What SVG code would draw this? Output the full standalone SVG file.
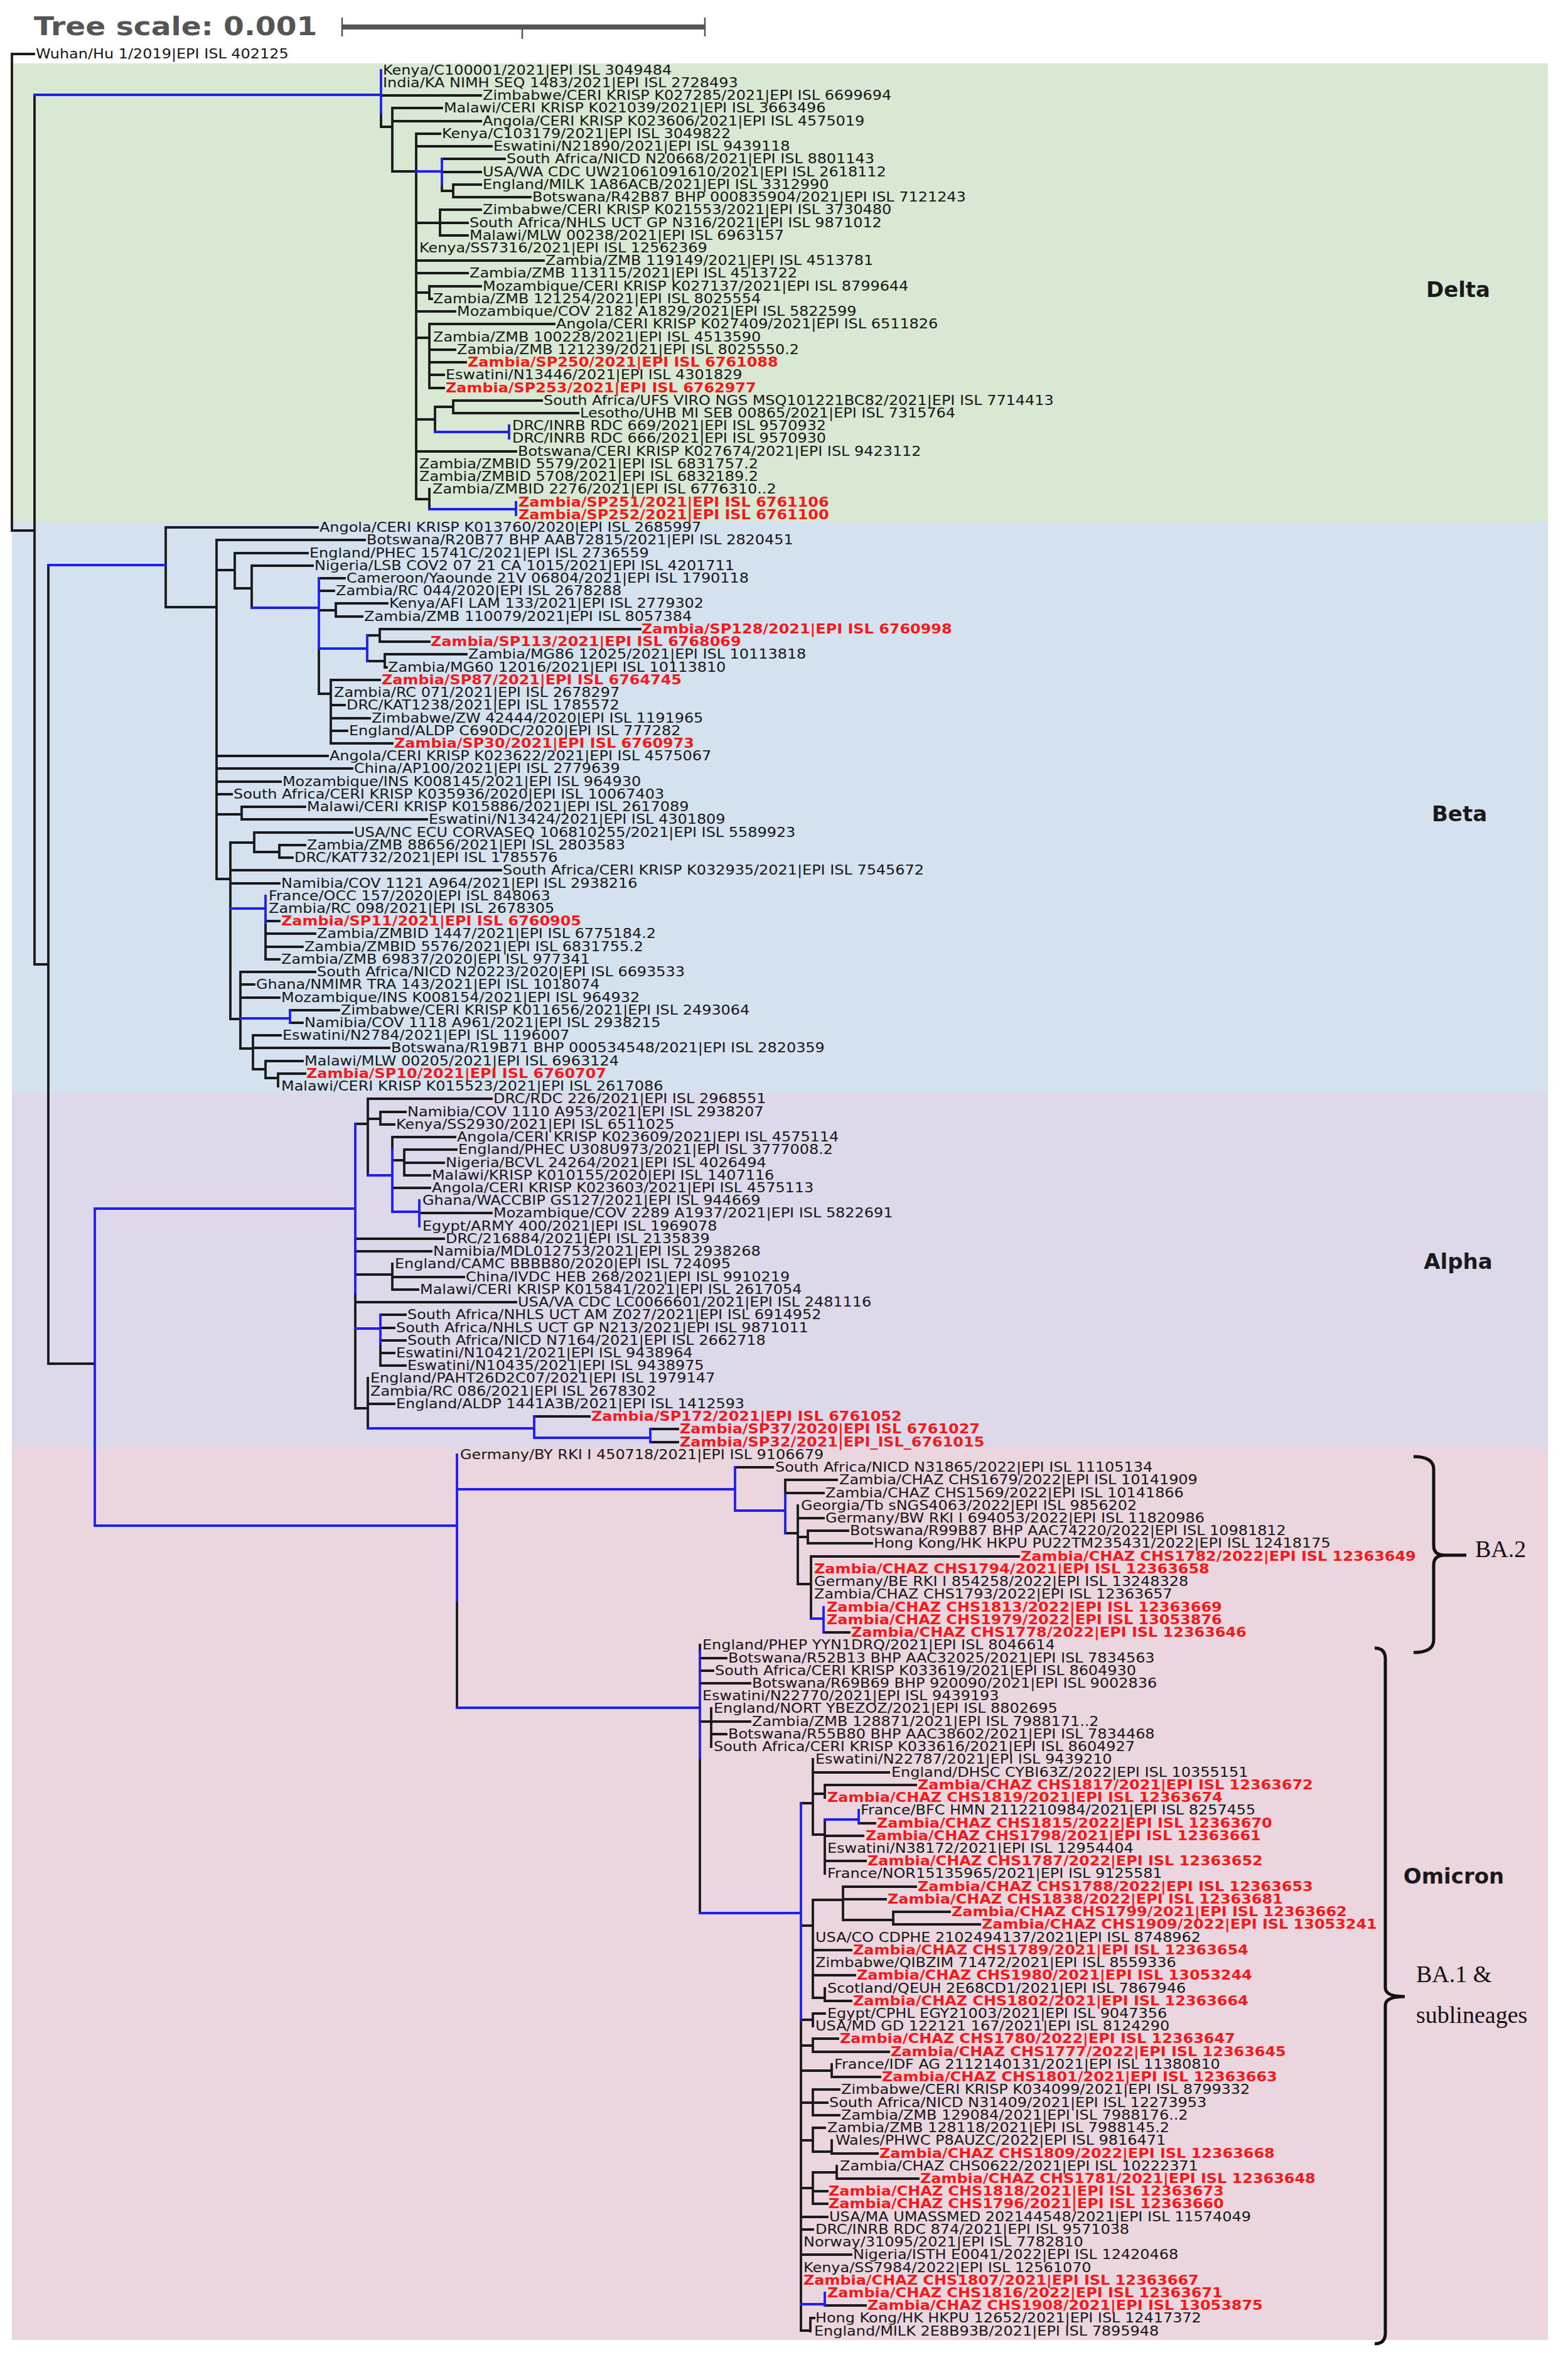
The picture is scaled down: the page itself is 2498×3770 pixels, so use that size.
<svg xmlns="http://www.w3.org/2000/svg" width="2498" height="3770" viewBox="0 0 2498 3770">
<style>
.k{fill:none;stroke:#1a1a1a;stroke-width:3.8;stroke-linecap:square}
.b{fill:none;stroke:#1f1ff0;stroke-width:3.8;stroke-linecap:square}
.br{fill:none;stroke:#111;stroke-width:5}
text{font-family:"DejaVu Sans","Liberation Sans",sans-serif}
.t{font-size:21px;fill:#161616;transform-box:fill-box;transform-origin:0 0;transform:scaleX(1.14)}
.r{font-weight:bold;fill:#f21a1a}
.c{font-size:34px;font-weight:bold;fill:#1a1a1a;text-anchor:middle}
.s{font-family:"Liberation Serif","Times New Roman",serif;font-size:38px;fill:#111}
</style>
<rect width="2498" height="3770" fill="#ffffff"/>
<g id="bands">
<rect x="19" y="101" width="2447" height="729" fill="#d9e8d3"/>
<rect x="19" y="830" width="2447" height="910" fill="#d4e2ef"/>
<rect x="19" y="1740" width="2447" height="566" fill="#ddd8ea"/>
<rect x="19" y="2306" width="2447" height="1421" fill="#ebd5de"/>
</g>
<g id="scale">
<text x="54" y="56" class="t" style="font-size:40px;font-weight:bold;fill:#555;transform:scaleX(1.18)">Tree scale: 0.001</text>
<rect x="545" y="39" width="578" height="8" fill="#555"/>
<path d="M545 28V58M1123 28V58M832 43V62" stroke="#555" stroke-width="2.5" fill="none"/>
</g>
<g id="branches">
<path class="k" d="M19 86V845M19 86H54M19 845H55M55 151V1536M55 1536H77M77 900V2172M77 2172H151
M607 180V202M607 152H766M607 202H625M625 172V273M625 172H704M625 193H766M625 273H663M663 213V795M663 213H701M663 233H783
M704 294V304M704 253H804M704 274H766M704 304H722M722 294V314M722 294H766M722 314H845
M663 355H701M701 334V375M701 334H766M701 355H745M701 375H745
M663 415H866M663 435H745
M663 466H684M684 456V476M684 456H766M684 476H688
M663 496H725
M663 538H684M684 516V618M684 516H883M684 557H725M684 577H742M684 597H707M684 618H707
M663 668H693M693 648V688M693 648H722M722 638V658M722 638H863M722 658H921
M663 719H822
M663 795H684M684 779V811
M264 840V967M264 840H506M264 967H345M345 860V1400M345 860H581M345 908H374M374 881V937M374 881H490M374 937H401M401 901V968M401 901H498
M508 921H549M508 941H532M508 972H535M535 961V982M535 961H617M535 982H577
M585 1012H605M605 1002V1022M605 1002H1020M605 1022H684M585 1053H613M613 1042V1063M613 1042H743M613 1063H616
M508 1033V1105M508 1105H527M527 1083V1184M527 1083H605M527 1123H549M527 1144H589M527 1164H553M527 1184H625
M345 1204H522M345 1224H561M345 1245H447M345 1265H369M345 1297H385M385 1285V1305M385 1285H486M385 1305H680
M345 1400H367M367 1342V1623M367 1342H405M405 1326V1357M405 1326H561M405 1357H445M445 1346V1366M445 1346H486M445 1366H466
M367 1386H798M367 1407H445
M423 1470V1528M423 1467H445M423 1487H502M423 1508H482M423 1528H445
M367 1623H383M383 1548V1670M383 1548H502M383 1568H405M383 1589H445
M462 1609H540M462 1629H482
M383 1670H403M403 1649V1703M403 1649H447M403 1669H620M403 1703H423M423 1690V1717M423 1690H482M423 1717H443M443 1710V1730M443 1710H486
M566 2060V2243M566 1790H586M586 1750V1872M586 1750H783M586 1782H606M606 1771V1791M606 1771H646M606 1791H628
M625 1811V1830M625 1811H725M625 1848H644M644 1831V1872M644 1831H727M644 1852H707M644 1872H685M625 1892H685
M668 1932H783
M566 1973H707M566 1993H687M566 2030H625M625 2013V2054M625 2034H739M625 2054H666M566 2074H822
M606 2140V2175M606 2094H646M606 2115H628M606 2135H646M606 2155H628M606 2175H646
M566 2243H586M586 2195V2275M586 2236H628
M851 2256H939M1036 2276H1080M1036 2297H1080
M728 2550V2720M1171 2337H1231M1251 2357V2380M1251 2357H1333M1251 2378H1312M1251 2442H1271M1271 2398V2523M1271 2418H1312M1271 2448H1287M1287 2438V2458M1287 2438H1351M1287 2458H1389M1271 2523H1292M1292 2479V2578M1292 2479H1623M1312 2600H1353
M1115 2620V2630M1115 2800V3047M1115 2641H1157M1115 2661H1136M1115 2681H1195M1115 2742H1133M1133 2721V2782M1133 2742H1195M1133 2762H1157
M1276 3217V3712
M1276 2872H1295M1295 2802V2922M1295 2823H1416M1295 2857H1314M1314 2843V2863M1314 2843H1459M1295 2922H1314M1314 2898V2984M1368 2904H1394M1314 2924H1375M1314 2964H1379
M1276 3067H1295M1295 3026V3182M1295 3026H1343M1343 3005V3058M1343 3005H1459M1343 3025H1411M1343 3058H1423M1423 3045V3065M1423 3045H1513M1423 3065H1561M1295 3106H1356M1295 3146H1362M1295 3182H1314M1314 3167V3187M1314 3187H1356
M1276 3217H1295M1295 3207V3227M1295 3207H1314
M1276 3258H1295M1295 3247V3268M1295 3247H1335M1295 3268H1416
M1276 3298H1325M1325 3288V3308M1325 3308H1402
M1276 3349H1295M1295 3328V3369M1295 3328H1337M1295 3349H1318M1295 3369H1337
M1276 3409H1295M1295 3389V3427M1295 3389H1314M1295 3427H1325M1325 3409V3430M1325 3430H1398
M1276 3485H1295M1295 3460V3510M1295 3460H1333M1333 3450V3470M1333 3470H1463M1295 3490H1318M1295 3510H1318
M1276 3531H1318M1276 3551H1295M1276 3591H1356
M1314 3672H1379
M1276 3712H1291M1291 3692V3713M1291 3692H1297"/>
<path class="b" d="M55 151H607M607 112V180M663 273H704M704 253V294M693 688H811M811 678V698M684 811H822M822 800V820
M77 900H264M401 968H508M508 921V1033M508 1033H585M585 1012V1053M367 1447H423M423 1427V1470M383 1622H462M462 1609V1629
M151 1925V2430M151 1925H566M566 1790V2060M586 1872H625M625 1830V1930M625 1930H668M668 1912V1953M566 2116H606M606 2094V2140M586 2275H851M851 2256V2290M851 2290H1036M1036 2276V2297
M151 2430H728M728 2317V2550M728 2372H1171M1171 2337V2406M1171 2406H1251M1251 2380V2442M1292 2578H1312M1312 2560V2600M728 2720H1115M1115 2630V2800M1115 3047H1276M1276 2872V3217M1368 2883V2904M1314 2898H1368M1276 3670H1314M1314 3652V3672"/>
</g>
<g id="brackets">
<path class="br" d="M2252 2320Q2284 2320 2284 2340V2462Q2284 2477 2302 2477Q2284 2477 2284 2492V2612Q2284 2632 2252 2632"/>
<path class="br" d="M2302 2477H2336"/>
<path class="br" d="M2190 2625Q2207 2625 2207 2642V3166Q2207 3180 2238 3180Q2207 3180 2207 3194V3716Q2207 3733 2190 3733"/>
</g>
<g id="clade-delta"><text class="c" x="2323" y="473">Delta</text></g>
<g id="clade-beta"><text class="c" x="2325" y="1308">Beta</text></g>
<g id="clade-alpha"><text class="c" x="2323" y="2021">Alpha</text></g>
<g id="clade-omicron"><text class="c" x="2316" y="3000">Omicron</text></g>
<g id="ba2"><text class="s" x="2350" y="2480">BA.2</text></g>
<g id="ba1"><text class="s" x="2256" y="3157">BA.1 &amp;</text><text class="s" x="2256" y="3222">sublineages</text></g>
<g id="t0"><text class="t" x="57" y="93">Wuhan/Hu 1/2019|EPI ISL 402125</text></g>
<g id="t1"><text class="t" x="610" y="119">Kenya/C100001/2021|EPI ISL 3049484</text></g>
<g id="t2"><text class="t" x="610" y="139">India/KA NIMH SEQ 1483/2021|EPI ISL 2728493</text></g>
<g id="t3"><text class="t" x="769" y="159">Zimbabwe/CERI KRISP K027285/2021|EPI ISL 6699694</text></g>
<g id="t4"><text class="t" x="707" y="179">Malawi/CERI KRISP K021039/2021|EPI ISL 3663496</text></g>
<g id="t5"><text class="t" x="769" y="200">Angola/CERI KRISP K023606/2021|EPI ISL 4575019</text></g>
<g id="t6"><text class="t" x="704" y="220">Kenya/C103179/2021|EPI ISL 3049822</text></g>
<g id="t7"><text class="t" x="786" y="240">Eswatini/N21890/2021|EPI ISL 9439118</text></g>
<g id="t8"><text class="t" x="807" y="260">South Africa/NICD N20668/2021|EPI ISL 8801143</text></g>
<g id="t9"><text class="t" x="769" y="281">USA/WA CDC UW21061091610/2021|EPI ISL 2618112</text></g>
<g id="t10"><text class="t" x="769" y="301">England/MILK 1A86ACB/2021|EPI ISL 3312990</text></g>
<g id="t11"><text class="t" x="848" y="321">Botswana/R42B87 BHP 000835904/2021|EPI ISL 7121243</text></g>
<g id="t12"><text class="t" x="769" y="341">Zimbabwe/CERI KRISP K021553/2021|EPI ISL 3730480</text></g>
<g id="t13"><text class="t" x="748" y="362">South Africa/NHLS UCT GP N316/2021|EPI ISL 9871012</text></g>
<g id="t14"><text class="t" x="748" y="382">Malawi/MLW 00238/2021|EPI ISL 6963157</text></g>
<g id="t15"><text class="t" x="668" y="402">Kenya/SS7316/2021|EPI ISL 12562369</text></g>
<g id="t16"><text class="t" x="869" y="422">Zambia/ZMB 119149/2021|EPI ISL 4513781</text></g>
<g id="t17"><text class="t" x="748" y="442">Zambia/ZMB 113115/2021|EPI ISL 4513722</text></g>
<g id="t18"><text class="t" x="769" y="463">Mozambique/CERI KRISP K027137/2021|EPI ISL 8799644</text></g>
<g id="t19"><text class="t" x="690" y="483">Zambia/ZMB 121254/2021|EPI ISL 8025554</text></g>
<g id="t20"><text class="t" x="728" y="503">Mozambique/COV 2182 A1829/2021|EPI ISL 5822599</text></g>
<g id="t21"><text class="t" x="886" y="523">Angola/CERI KRISP K027409/2021|EPI ISL 6511826</text></g>
<g id="t22"><text class="t" x="690" y="544">Zambia/ZMB 100228/2021|EPI ISL 4513590</text></g>
<g id="t23"><text class="t" x="728" y="564">Zambia/ZMB 121239/2021|EPI ISL 8025550.2</text></g>
<g id="t24"><text class="t r" x="745" y="584">Zambia/SP250/2021|EPI ISL 6761088</text></g>
<g id="t25"><text class="t" x="710" y="604">Eswatini/N13446/2021|EPI ISL 4301829</text></g>
<g id="t26"><text class="t r" x="710" y="625">Zambia/SP253/2021|EPI ISL 6762977</text></g>
<g id="t27"><text class="t" x="866" y="645">South Africa/UFS VIRO NGS MSQ101221BC82/2021|EPI ISL 7714413</text></g>
<g id="t28"><text class="t" x="924" y="665">Lesotho/UHB MI SEB 00865/2021|EPI ISL 7315764</text></g>
<g id="t29"><text class="t" x="816" y="685">DRC/INRB RDC 669/2021|EPI ISL 9570932</text></g>
<g id="t30"><text class="t" x="816" y="705">DRC/INRB RDC 666/2021|EPI ISL 9570930</text></g>
<g id="t31"><text class="t" x="825" y="726">Botswana/CERI KRISP K027674/2021|EPI ISL 9423112</text></g>
<g id="t32"><text class="t" x="668" y="746">Zambia/ZMBID 5579/2021|EPI ISL 6831757.2</text></g>
<g id="t33"><text class="t" x="668" y="766">Zambia/ZMBID 5708/2021|EPI ISL 6832189.2</text></g>
<g id="t34"><text class="t" x="689" y="786">Zambia/ZMBID 2276/2021|EPI ISL 6776310..2</text></g>
<g id="t35"><text class="t r" x="826" y="807">Zambia/SP251/2021|EPI ISL 6761106</text></g>
<g id="t36"><text class="t r" x="826" y="827">Zambia/SP252/2021|EPI ISL 6761100</text></g>
<g id="t37"><text class="t" x="509" y="847">Angola/CERI KRISP K013760/2020|EPI ISL 2685997</text></g>
<g id="t38"><text class="t" x="584" y="867">Botswana/R20B77 BHP AAB72815/2021|EPI ISL 2820451</text></g>
<g id="t39"><text class="t" x="493" y="888">England/PHEC 15741C/2021|EPI ISL 2736559</text></g>
<g id="t40"><text class="t" x="501" y="908">Nigeria/LSB COV2 07 21 CA 1015/2021|EPI ISL 4201711</text></g>
<g id="t41"><text class="t" x="552" y="928">Cameroon/Yaounde 21V 06804/2021|EPI ISL 1790118</text></g>
<g id="t42"><text class="t" x="535" y="948">Zambia/RC 044/2020|EPI ISL 2678288</text></g>
<g id="t43"><text class="t" x="620" y="968">Kenya/AFI LAM 133/2021|EPI ISL 2779302</text></g>
<g id="t44"><text class="t" x="580" y="989">Zambia/ZMB 110079/2021|EPI ISL 8057384</text></g>
<g id="t45"><text class="t r" x="1022" y="1009">Zambia/SP128/2021|EPI ISL 6760998</text></g>
<g id="t46"><text class="t r" x="686" y="1029">Zambia/SP113/2021|EPI ISL 6768069</text></g>
<g id="t47"><text class="t" x="746" y="1049">Zambia/MG86 12025/2021|EPI ISL 10113818</text></g>
<g id="t48"><text class="t" x="618" y="1070">Zambia/MG60 12016/2021|EPI ISL 10113810</text></g>
<g id="t49"><text class="t r" x="608" y="1090">Zambia/SP87/2021|EPI ISL 6764745</text></g>
<g id="t50"><text class="t" x="532" y="1110">Zambia/RC 071/2021|EPI ISL 2678297</text></g>
<g id="t51"><text class="t" x="552" y="1130">DRC/KAT1238/2021|EPI ISL 1785572</text></g>
<g id="t52"><text class="t" x="592" y="1151">Zimbabwe/ZW 42444/2020|EPI ISL 1191965</text></g>
<g id="t53"><text class="t" x="556" y="1171">England/ALDP C690DC/2020|EPI ISL 777282</text></g>
<g id="t54"><text class="t r" x="628" y="1191">Zambia/SP30/2021|EPI ISL 6760973</text></g>
<g id="t55"><text class="t" x="525" y="1211">Angola/CERI KRISP K023622/2021|EPI ISL 4575067</text></g>
<g id="t56"><text class="t" x="564" y="1231">China/AP100/2021|EPI ISL 2779639</text></g>
<g id="t57"><text class="t" x="450" y="1252">Mozambique/INS K008145/2021|EPI ISL 964930</text></g>
<g id="t58"><text class="t" x="372" y="1272">South Africa/CERI KRISP K035936/2020|EPI ISL 10067403</text></g>
<g id="t59"><text class="t" x="489" y="1292">Malawi/CERI KRISP K015886/2021|EPI ISL 2617089</text></g>
<g id="t60"><text class="t" x="683" y="1312">Eswatini/N13424/2021|EPI ISL 4301809</text></g>
<g id="t61"><text class="t" x="564" y="1333">USA/NC ECU CORVASEQ 106810255/2021|EPI ISL 5589923</text></g>
<g id="t62"><text class="t" x="489" y="1353">Zambia/ZMB 88656/2021|EPI ISL 2803583</text></g>
<g id="t63"><text class="t" x="469" y="1373">DRC/KAT732/2021|EPI ISL 1785576</text></g>
<g id="t64"><text class="t" x="801" y="1393">South Africa/CERI KRISP K032935/2021|EPI ISL 7545672</text></g>
<g id="t65"><text class="t" x="448" y="1414">Namibia/COV 1121 A964/2021|EPI ISL 2938216</text></g>
<g id="t66"><text class="t" x="428" y="1434">France/OCC 157/2020|EPI ISL 848063</text></g>
<g id="t67"><text class="t" x="428" y="1454">Zambia/RC 098/2021|EPI ISL 2678305</text></g>
<g id="t68"><text class="t r" x="448" y="1474">Zambia/SP11/2021|EPI ISL 6760905</text></g>
<g id="t69"><text class="t" x="505" y="1494">Zambia/ZMBID 1447/2021|EPI ISL 6775184.2</text></g>
<g id="t70"><text class="t" x="485" y="1515">Zambia/ZMBID 5576/2021|EPI ISL 6831755.2</text></g>
<g id="t71"><text class="t" x="448" y="1535">Zambia/ZMB 69837/2020|EPI ISL 977341</text></g>
<g id="t72"><text class="t" x="505" y="1555">South Africa/NICD N20223/2020|EPI ISL 6693533</text></g>
<g id="t73"><text class="t" x="408" y="1575">Ghana/NMIMR TRA 143/2021|EPI ISL 1018074</text></g>
<g id="t74"><text class="t" x="448" y="1596">Mozambique/INS K008154/2021|EPI ISL 964932</text></g>
<g id="t75"><text class="t" x="543" y="1616">Zimbabwe/CERI KRISP K011656/2021|EPI ISL 2493064</text></g>
<g id="t76"><text class="t" x="485" y="1636">Namibia/COV 1118 A961/2021|EPI ISL 2938215</text></g>
<g id="t77"><text class="t" x="450" y="1656">Eswatini/N2784/2021|EPI ISL 1196007</text></g>
<g id="t78"><text class="t" x="623" y="1676">Botswana/R19B71 BHP 000534548/2021|EPI ISL 2820359</text></g>
<g id="t79"><text class="t" x="485" y="1697">Malawi/MLW 00205/2021|EPI ISL 6963124</text></g>
<g id="t80"><text class="t r" x="488" y="1717">Zambia/SP10/2021|EPI ISL 6760707</text></g>
<g id="t81"><text class="t" x="448" y="1737">Malawi/CERI KRISP K015523/2021|EPI ISL 2617086</text></g>
<g id="t82"><text class="t" x="786" y="1757">DRC/RDC 226/2021|EPI ISL 2968551</text></g>
<g id="t83"><text class="t" x="649" y="1778">Namibia/COV 1110 A953/2021|EPI ISL 2938207</text></g>
<g id="t84"><text class="t" x="631" y="1798">Kenya/SS2930/2021|EPI ISL 6511025</text></g>
<g id="t85"><text class="t" x="728" y="1818">Angola/CERI KRISP K023609/2021|EPI ISL 4575114</text></g>
<g id="t86"><text class="t" x="730" y="1838">England/PHEC U308U973/2021|EPI ISL 3777008.2</text></g>
<g id="t87"><text class="t" x="710" y="1859">Nigeria/BCVL 24264/2021|EPI ISL 4026494</text></g>
<g id="t88"><text class="t" x="688" y="1879">Malawi/KRISP K010155/2020|EPI ISL 1407116</text></g>
<g id="t89"><text class="t" x="688" y="1899">Angola/CERI KRISP K023603/2021|EPI ISL 4575113</text></g>
<g id="t90"><text class="t" x="673" y="1919">Ghana/WACCBIP GS127/2021|EPI ISL 944669</text></g>
<g id="t91"><text class="t" x="786" y="1939">Mozambique/COV 2289 A1937/2021|EPI ISL 5822691</text></g>
<g id="t92"><text class="t" x="673" y="1960">Egypt/ARMY 400/2021|EPI ISL 1969078</text></g>
<g id="t93"><text class="t" x="710" y="1980">DRC/216884/2021|EPI ISL 2135839</text></g>
<g id="t94"><text class="t" x="690" y="2000">Namibia/MDL012753/2021|EPI ISL 2938268</text></g>
<g id="t95"><text class="t" x="629" y="2020">England/CAMC BBBB80/2020|EPI ISL 724095</text></g>
<g id="t96"><text class="t" x="742" y="2041">China/IVDC HEB 268/2021|EPI ISL 9910219</text></g>
<g id="t97"><text class="t" x="669" y="2061">Malawi/CERI KRISP K015841/2021|EPI ISL 2617054</text></g>
<g id="t98"><text class="t" x="825" y="2081">USA/VA CDC LC0066601/2021|EPI ISL 2481116</text></g>
<g id="t99"><text class="t" x="649" y="2101">South Africa/NHLS UCT AM Z027/2021|EPI ISL 6914952</text></g>
<g id="t100"><text class="t" x="631" y="2122">South Africa/NHLS UCT GP N213/2021|EPI ISL 9871011</text></g>
<g id="t101"><text class="t" x="649" y="2142">South Africa/NICD N7164/2021|EPI ISL 2662718</text></g>
<g id="t102"><text class="t" x="631" y="2162">Eswatini/N10421/2021|EPI ISL 9438964</text></g>
<g id="t103"><text class="t" x="649" y="2182">Eswatini/N10435/2021|EPI ISL 9438975</text></g>
<g id="t104"><text class="t" x="590" y="2202">England/PAHT26D2C07/2021|EPI ISL 1979147</text></g>
<g id="t105"><text class="t" x="590" y="2223">Zambia/RC 086/2021|EPI ISL 2678302</text></g>
<g id="t106"><text class="t" x="631" y="2243">England/ALDP 1441A3B/2021|EPI ISL 1412593</text></g>
<g id="t107"><text class="t r" x="942" y="2263">Zambia/SP172/2021|EPI ISL 6761052</text></g>
<g id="t108"><text class="t r" x="1083" y="2283">Zambia/SP37/2020|EPI ISL 6761027</text></g>
<g id="t109"><text class="t r" x="1083" y="2304">Zambia/SP32/2021|EPI_ISL_6761015</text></g>
<g id="t110"><text class="t" x="733" y="2324">Germany/BY RKI I 450718/2021|EPI ISL 9106679</text></g>
<g id="t111"><text class="t" x="1235" y="2344">South Africa/NICD N31865/2022|EPI ISL 11105134</text></g>
<g id="t112"><text class="t" x="1337" y="2364">Zambia/CHAZ CHS1679/2022|EPI ISL 10141909</text></g>
<g id="t113"><text class="t" x="1315" y="2385">Zambia/CHAZ CHS1569/2022|EPI ISL 10141866</text></g>
<g id="t114"><text class="t" x="1276" y="2405">Georgia/Tb sNGS4063/2022|EPI ISL 9856202</text></g>
<g id="t115"><text class="t" x="1315" y="2425">Germany/BW RKI I 694053/2022|EPI ISL 11820986</text></g>
<g id="t116"><text class="t" x="1354" y="2445">Botswana/R99B87 BHP AAC74220/2022|EPI ISL 10981812</text></g>
<g id="t117"><text class="t" x="1392" y="2465">Hong Kong/HK HKPU PU22TM235431/2022|EPI ISL 12418175</text></g>
<g id="t118"><text class="t r" x="1626" y="2486">Zambia/CHAZ CHS1782/2022|EPI ISL 12363649</text></g>
<g id="t119"><text class="t r" x="1297" y="2506">Zambia/CHAZ CHS1794/2021|EPI ISL 12363658</text></g>
<g id="t120"><text class="t" x="1297" y="2526">Germany/BE RKI I 854258/2022|EPI ISL 13248328</text></g>
<g id="t121"><text class="t" x="1297" y="2546">Zambia/CHAZ CHS1793/2022|EPI ISL 12363657</text></g>
<g id="t122"><text class="t r" x="1317" y="2567">Zambia/CHAZ CHS1813/2022|EPI ISL 12363669</text></g>
<g id="t123"><text class="t r" x="1317" y="2587">Zambia/CHAZ CHS1979/2022|EPI ISL 13053876</text></g>
<g id="t124"><text class="t r" x="1356" y="2607">Zambia/CHAZ CHS1778/2022|EPI ISL 12363646</text></g>
<g id="t125"><text class="t" x="1119" y="2627">England/PHEP YYN1DRQ/2021|EPI ISL 8046614</text></g>
<g id="t126"><text class="t" x="1160" y="2648">Botswana/R52B13 BHP AAC32025/2021|EPI ISL 7834563</text></g>
<g id="t127"><text class="t" x="1139" y="2668">South Africa/CERI KRISP K033619/2021|EPI ISL 8604930</text></g>
<g id="t128"><text class="t" x="1198" y="2688">Botswana/R69B69 BHP 920090/2021|EPI ISL 9002836</text></g>
<g id="t129"><text class="t" x="1119" y="2708">Eswatini/N22770/2021|EPI ISL 9439193</text></g>
<g id="t130"><text class="t" x="1137" y="2728">England/NORT YBEZOZ/2021|EPI ISL 8802695</text></g>
<g id="t131"><text class="t" x="1198" y="2749">Zambia/ZMB 128871/2021|EPI ISL 7988171..2</text></g>
<g id="t132"><text class="t" x="1160" y="2769">Botswana/R55B80 BHP AAC38602/2021|EPI ISL 7834468</text></g>
<g id="t133"><text class="t" x="1137" y="2789">South Africa/CERI KRISP K033616/2021|EPI ISL 8604927</text></g>
<g id="t134"><text class="t" x="1299" y="2809">Eswatini/N22787/2021|EPI ISL 9439210</text></g>
<g id="t135"><text class="t" x="1420" y="2830">England/DHSC CYBI63Z/2022|EPI ISL 10355151</text></g>
<g id="t136"><text class="t r" x="1462" y="2850">Zambia/CHAZ CHS1817/2021|EPI ISL 12363672</text></g>
<g id="t137"><text class="t r" x="1318" y="2870">Zambia/CHAZ CHS1819/2021|EPI ISL 12363674</text></g>
<g id="t138"><text class="t" x="1371" y="2890">France/BFC HMN 2112210984/2021|EPI ISL 8257455</text></g>
<g id="t139"><text class="t r" x="1397" y="2911">Zambia/CHAZ CHS1815/2022|EPI ISL 12363670</text></g>
<g id="t140"><text class="t r" x="1379" y="2931">Zambia/CHAZ CHS1798/2021|EPI ISL 12363661</text></g>
<g id="t141"><text class="t" x="1318" y="2951">Eswatini/N38172/2021|EPI ISL 12954404</text></g>
<g id="t142"><text class="t r" x="1382" y="2971">Zambia/CHAZ CHS1787/2022|EPI ISL 12363652</text></g>
<g id="t143"><text class="t" x="1318" y="2991">France/NOR15135965/2021|EPI ISL 9125581</text></g>
<g id="t144"><text class="t r" x="1462" y="3012">Zambia/CHAZ CHS1788/2022|EPI ISL 12363653</text></g>
<g id="t145"><text class="t r" x="1414" y="3032">Zambia/CHAZ CHS1838/2022|EPI ISL 12363681</text></g>
<g id="t146"><text class="t r" x="1516" y="3052">Zambia/CHAZ CHS1799/2021|EPI ISL 12363662</text></g>
<g id="t147"><text class="t r" x="1564" y="3072">Zambia/CHAZ CHS1909/2022|EPI ISL 13053241</text></g>
<g id="t148"><text class="t" x="1299" y="3093">USA/CO CDPHE 2102494137/2021|EPI ISL 8748962</text></g>
<g id="t149"><text class="t r" x="1359" y="3113">Zambia/CHAZ CHS1789/2021|EPI ISL 12363654</text></g>
<g id="t150"><text class="t" x="1299" y="3133">Zimbabwe/QIBZIM 71472/2021|EPI ISL 8559336</text></g>
<g id="t151"><text class="t r" x="1365" y="3153">Zambia/CHAZ CHS1980/2021|EPI ISL 13053244</text></g>
<g id="t152"><text class="t" x="1318" y="3174">Scotland/QEUH 2E68CD1/2021|EPI ISL 7867946</text></g>
<g id="t153"><text class="t r" x="1359" y="3194">Zambia/CHAZ CHS1802/2021|EPI ISL 12363664</text></g>
<g id="t154"><text class="t" x="1318" y="3214">Egypt/CPHL EGY21003/2021|EPI ISL 9047356</text></g>
<g id="t155"><text class="t" x="1299" y="3234">USA/MD GD 122121 167/2021|EPI ISL 8124290</text></g>
<g id="t156"><text class="t r" x="1338" y="3254">Zambia/CHAZ CHS1780/2022|EPI ISL 12363647</text></g>
<g id="t157"><text class="t r" x="1419" y="3275">Zambia/CHAZ CHS1777/2022|EPI ISL 12363645</text></g>
<g id="t158"><text class="t" x="1329" y="3295">France/IDF AG 2112140131/2021|EPI ISL 11380810</text></g>
<g id="t159"><text class="t r" x="1405" y="3315">Zambia/CHAZ CHS1801/2021|EPI ISL 12363663</text></g>
<g id="t160"><text class="t" x="1340" y="3335">Zimbabwe/CERI KRISP K034099/2021|EPI ISL 8799332</text></g>
<g id="t161"><text class="t" x="1321" y="3356">South Africa/NICD N31409/2021|EPI ISL 12273953</text></g>
<g id="t162"><text class="t" x="1340" y="3376">Zambia/ZMB 129084/2021|EPI ISL 7988176..2</text></g>
<g id="t163"><text class="t" x="1318" y="3396">Zambia/ZMB 128118/2021|EPI ISL 7988145.2</text></g>
<g id="t164"><text class="t" x="1331" y="3416">Wales/PHWC P8AUZC/2022|EPI ISL 9816471</text></g>
<g id="t165"><text class="t r" x="1401" y="3437">Zambia/CHAZ CHS1809/2022|EPI ISL 12363668</text></g>
<g id="t166"><text class="t" x="1338" y="3457">Zambia/CHAZ CHS0622/2021|EPI ISL 10222371</text></g>
<g id="t167"><text class="t r" x="1466" y="3477">Zambia/CHAZ CHS1781/2021|EPI ISL 12363648</text></g>
<g id="t168"><text class="t r" x="1320" y="3497">Zambia/CHAZ CHS1818/2021|EPI ISL 12363673</text></g>
<g id="t169"><text class="t r" x="1320" y="3517">Zambia/CHAZ CHS1796/2021|EPI ISL 12363660</text></g>
<g id="t170"><text class="t" x="1321" y="3538">USA/MA UMASSMED 202144548/2021|EPI ISL 11574049</text></g>
<g id="t171"><text class="t" x="1299" y="3558">DRC/INRB RDC 874/2021|EPI ISL 9571038</text></g>
<g id="t172"><text class="t" x="1280" y="3578">Norway/31095/2021|EPI ISL 7782810</text></g>
<g id="t173"><text class="t" x="1359" y="3598">Nigeria/ISTH E0041/2022|EPI ISL 12420468</text></g>
<g id="t174"><text class="t" x="1280" y="3619">Kenya/SS7984/2022|EPI ISL 12561070</text></g>
<g id="t175"><text class="t r" x="1280" y="3639">Zambia/CHAZ CHS1807/2021|EPI ISL 12363667</text></g>
<g id="t176"><text class="t r" x="1318" y="3659">Zambia/CHAZ CHS1816/2022|EPI ISL 12363671</text></g>
<g id="t177"><text class="t r" x="1382" y="3679">Zambia/CHAZ CHS1908/2021|EPI ISL 13053875</text></g>
<g id="t178"><text class="t" x="1299" y="3699">Hong Kong/HK HKPU 12652/2021|EPI ISL 12417372</text></g>
<g id="t179"><text class="t" x="1297" y="3720">England/MILK 2E8B93B/2021|EPI ISL 7895948</text></g>
</svg>
